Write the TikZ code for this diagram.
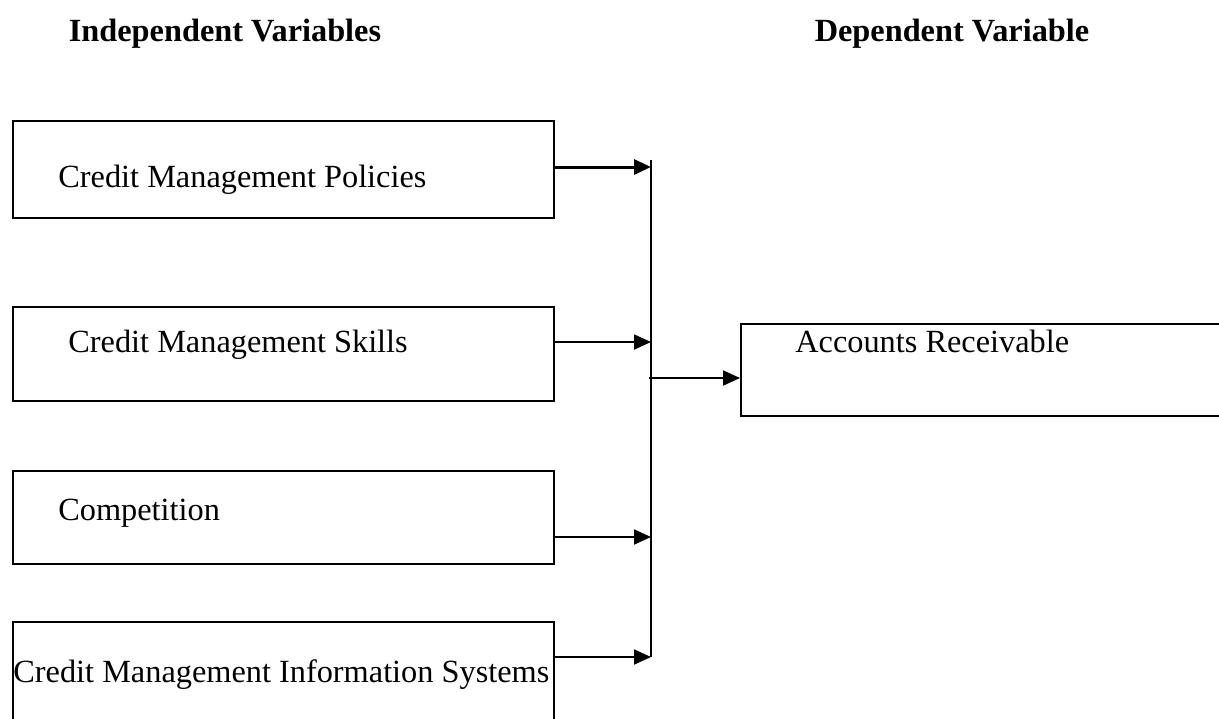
\documentclass[tikz,border=0pt]{standalone}
\usepackage{fontspec}
\setmainfont{Liberation Serif}
\usetikzlibrary{arrows.meta}
\begin{document}
\begin{tikzpicture}[x=0.02cm,y=-0.02cm,
  box/.style={draw,line width=1.1pt,rectangle,inner sep=0pt},
  lbl/.style={anchor=base west,inner sep=0pt,font=\fontsize{18.4}{22}\selectfont},
  head/.style={anchor=base,inner sep=0pt,font=\fontsize{18.4}{22}\selectfont\bfseries},
  arr/.style={line width=1.1pt,-{Triangle[length=0.34cm,width=0.3cm]}},
  link/.style={line width=1.1pt}]
\useasboundingbox (0,0) rectangle (1219,718);

% column headings
\node[head] (hin) at (225,41) {Independent Variables};
\node[head] (hdep) at (952,41) {Dependent Variable};

% independent variable boxes
\node[box,minimum width=10.82cm,minimum height=1.94cm,anchor=north west] (b1) at (12,120) {};
\node[box,minimum width=10.82cm,minimum height=1.88cm,anchor=north west] (b2) at (12,306) {};
\node[box,minimum width=10.82cm,minimum height=1.86cm,anchor=north west] (b3) at (12,470) {};
\node[box,minimum width=10.82cm,minimum height=2.2cm,anchor=north west] (b4) at (12,621) {};

\node[lbl] (t1) at (58,187) {Credit Management Policies};
\node[lbl] (t2) at (68,352) {Credit Management Skills};
\node[lbl] (t3) at (58,520) {Competition};
\node[lbl] (t4) at (13,682) {Credit Management Information Systems};

% dependent variable box
\node[box,minimum width=10cm,minimum height=1.84cm,anchor=north west] (ar) at (740,323) {};
\node[lbl] (tar) at (795,352) {Accounts Receivable};

% collecting line
\coordinate (ctop) at (651,160);
\coordinate (cbot) at (651,657);
\coordinate (c1) at (651,167);
\coordinate (c2) at (651,342);
\coordinate (c3) at (651,537);
\coordinate (c4) at (651,657);
\coordinate (cout) at (649,378);
\draw[link] (ctop) -- (cbot);

% arrows into the collecting line
\draw[arr,line width=1.7pt] (b1.east |- c1) -- (c1);
\draw[arr] (b2.east |- c2) -- (c2);
\draw[arr] (b3.east |- c3) -- (c3);
\draw[arr] (b4.east |- c4) -- (c4);

% arrow to the dependent variable
\draw[arr] (cout) -- (ar.west |- cout);
\end{tikzpicture}
\end{document}
